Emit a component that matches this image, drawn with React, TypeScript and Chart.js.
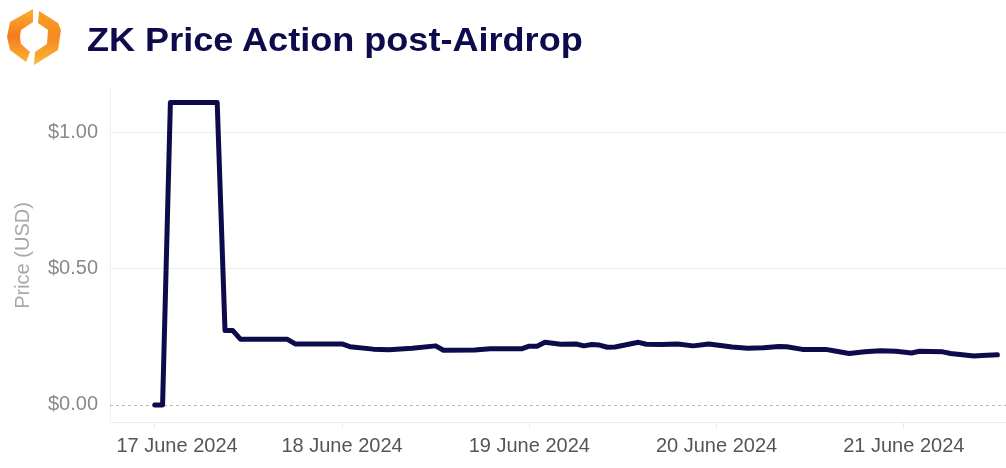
import React, { useEffect, useRef } from "react";
import { Chart, registerables } from "chart.js";

Chart.register(...registerables);

// hours since 17 June 2024 00:00
const hours = [0, 1, 2, 8, 9, 10, 11, 17, 18, 24, 25, 28, 30, 33, 36, 37, 41, 43, 47, 48, 49, 50, 52, 54, 55, 56, 57, 58, 59, 62, 63, 65, 67, 69, 71, 72, 74, 76, 78, 80, 81, 83, 86, 87, 89, 91, 93, 95, 97, 98, 101, 102, 105, 106, 108];
const prices = [0, 0, 1.11, 1.11, 0.273, 0.273, 0.241, 0.241, 0.224, 0.224, 0.214, 0.205, 0.203, 0.208, 0.217, 0.201, 0.202, 0.206, 0.206, 0.216, 0.216, 0.23, 0.223, 0.224, 0.217, 0.222, 0.22, 0.212, 0.213, 0.23, 0.223, 0.222, 0.224, 0.217, 0.224, 0.22, 0.213, 0.208, 0.21, 0.215, 0.214, 0.204, 0.204, 0.199, 0.189, 0.195, 0.199, 0.197, 0.191, 0.197, 0.195, 0.189, 0.18, 0.182, 0.184];
const xTickHours = [0, 24, 48, 72, 96];
const xTickLabels = ["17 June 2024", "18 June 2024", "19 June 2024", "20 June 2024", "21 June 2024"];
const yTickValues = [0, 0.5, 1.0];
const yTickLabels = ["$0.00", "$0.50", "$1.00"];

const FONT = '"Liberation Sans", Arial, Helvetica, sans-serif';

const zeroLinePlugin = {
  id: "zeroLine",
  beforeDatasetsDraw(chart: any) {
    const { ctx, chartArea, scales } = chart;
    const y = Math.round(scales.y.getPixelForValue(0)) + 0.5;
    ctx.save();
    ctx.strokeStyle = "#b8b8b8";
    ctx.lineWidth = 1;
    ctx.setLineDash([3, 3]);
    ctx.beginPath();
    ctx.moveTo(chartArea.left, y);
    ctx.lineTo(chartArea.right, y);
    ctx.stroke();
    ctx.restore();
  },
};

function Logo() {
  return (
    <svg width="70" height="72" style={{ position: "absolute", left: 0, top: 0 }}>
      <defs>
        <linearGradient id="lg1" x1="0" y1="0" x2="0" y2="1">
          <stop offset="0" stopColor="#fbb12f" />
          <stop offset="0.5" stopColor="#f47b20" />
          <stop offset="1" stopColor="#fbb12f" />
        </linearGradient>
        <linearGradient id="lg2" x1="0" y1="0" x2="0" y2="1">
          <stop offset="0" stopColor="#f8a024" />
          <stop offset="0.5" stopColor="#f58a22" />
          <stop offset="1" stopColor="#fcb836" />
        </linearGradient>
      </defs>
      <polygon points="33,9 10,22 7,37 10,50 26,62 30,52 21,44 20,37 21,30 33,22" fill="url(#lg1)" />
      <polygon points="39,11 58,23 61,30 58,50 34,65 35,52 47,44 48,30 38,23" fill="url(#lg2)" />
    </svg>
  );
}

export default function App() {
  const canvasRef = useRef<HTMLCanvasElement | null>(null);

  useEffect(() => {
    const canvas = canvasRef.current;
    if (!canvas) return;
    const chart = new Chart(canvas, {
      type: "line",
      data: {
        datasets: [
          {
            data: hours.map((h, i) => ({ x: h, y: prices[i] })),
            borderColor: "#0d0b4b",
            borderWidth: 5,
            pointRadius: 0,
            tension: 0,
            borderJoinStyle: "round",
            borderCapStyle: "round",
            fill: false,
          },
        ],
      },
      options: {
        animation: false,
        responsive: false,
        layout: { padding: { top: 89, left: 0, right: 0, bottom: 0 } },
        plugins: { legend: { display: false }, tooltip: { enabled: false }, title: { display: false } },
        scales: {
          x: {
            type: "linear",
            min: -5.74,
            max: 109.1,
            afterBuildTicks: (s: any) => {
              s.ticks = xTickHours.map((v) => ({ value: v }));
            },
            afterFit: (s: any) => {
              s.height = 46;
            },
            ticks: {
              autoSkip: false,
              maxRotation: 0,
              padding: 6,
              color: "#555555",
              font: { family: FONT, size: 20 },
              callback: (v: any) => {
                const idx = xTickHours.indexOf(Number(v));
                const label = idx >= 0 ? xTickLabels[idx] : "";
                return idx === 0 ? "        " + label : label;
              },
            },
            grid: { drawOnChartArea: false, drawTicks: true, tickLength: 6, color: "#e8e8e8" },
            border: { display: true, color: "#ececec", width: 1 },
          },
          y: {
            type: "linear",
            min: -0.0625,
            max: 1.16,
            afterBuildTicks: (s: any) => {
              s.ticks = yTickValues.map((v) => ({ value: v }));
            },
            afterFit: (s: any) => {
              s.width = 110;
            },
            ticks: {
              padding: 12,
              color: "#8a8a8a",
              font: { family: FONT, size: 20 },
              callback: (v: any) => {
                const idx = yTickValues.indexOf(Number(v));
                return idx >= 0 ? yTickLabels[idx] : "";
              },
            },
            grid: {
              drawTicks: false,
              color: (ctx: any) => (ctx.tick && ctx.tick.value === 0 ? "rgba(0,0,0,0)" : "#ececec"),
            },
            border: { display: true, color: "#f0f0f0" },
            title: {
              display: true,
              text: "Price (USD)",
              color: "#a8a8a8",
              font: { family: FONT, size: 20 },
              padding: { top: 11, bottom: 0 },
            },
          },
        },
      },
      plugins: [zeroLinePlugin],
    } as any);
    return () => chart.destroy();
  }, []);

  return (
    <div style={{ position: "fixed", left: 0, top: 0, width: 1006, height: 468, background: "#ffffff", overflow: "hidden" }}>
      <canvas ref={canvasRef} width={1006} height={468} style={{ position: "absolute", left: 0, top: 0, width: 1006, height: 468 }} />
      <Logo />
      <div
        style={{
          position: "absolute",
          left: 87,
          top: 24,
          fontFamily: FONT,
          fontWeight: "bold",
          fontSize: 32.5,
          lineHeight: "32.5px",
          color: "#0d0b4b",
          whiteSpace: "nowrap",
          transform: "scaleX(1.11)",
          transformOrigin: "0 0",
        }}
      >
        ZK Price Action post-Airdrop
      </div>
    </div>
  );
}
